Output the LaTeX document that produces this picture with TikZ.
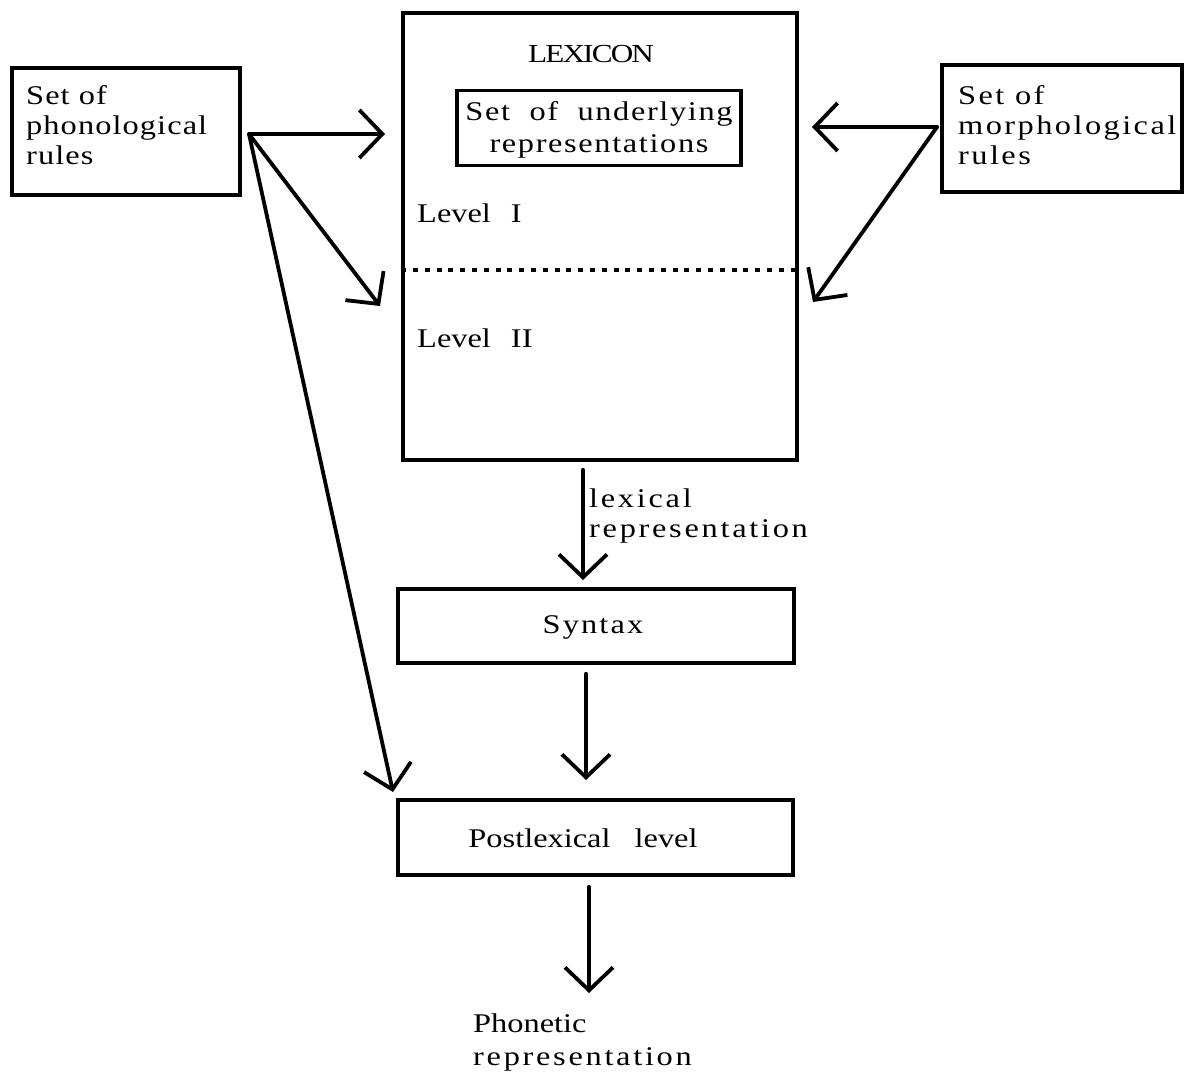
\documentclass[tikz,border=0pt]{standalone}
\usepackage{fontspec}
\setmainfont{Liberation Serif}
\newfontfamily\wfont[FakeStretch=1.2]{Liberation Serif}
\usetikzlibrary{arrows.meta}
\begin{document}
\begin{tikzpicture}[x=1pt,y=-1pt,
  box/.style={draw,line width=3.6pt,inner sep=0pt},
  txt/.style={inner sep=0pt,align=left,font=\fontsize{27}{30}\selectfont\wfont\addfontfeature{LetterSpace=#1}},
  txt/.default=0,
  arr/.style={line width=3.8pt,line join=round,line cap=round,-{Straight Barb[length=23pt,width=48pt,line width=3.8pt]}}]
\useasboundingbox[fill=white] (0,0) rectangle (1184,1081);
% boxes
\node[box,minimum width=228pt,minimum height=127pt] (phon) at (126,131.5) {};
\node[box,minimum width=240pt,minimum height=127pt] (morph) at (1062,128.5) {};
\node[box,minimum width=394pt,minimum height=447pt] (lex) at (600,236.5) {};
\node[box,minimum width=284pt,minimum height=75pt] (ur) at (599,128) {};
\node[box,minimum width=396pt,minimum height=74pt] (syn) at (596,626) {};
\node[box,minimum width=395pt,minimum height=75pt] (post) at (595.5,837.5) {};
% texts
\node[txt=4,anchor=north west] (phont) at (26,85) {Set of\\phonological\\rules};
\node[txt=9,anchor=north west] (morpht) at (958,85) {Set of\\morphological\\rules};
\node[inner sep=0pt,anchor=base,font=\fontsize{26}{28}\selectfont\wfont\addfontfeature{LetterSpace=-7}] (lext) at (591,63) {LEXICON};
\node[txt=6,align=center,anchor=north,font=\fontsize{27}{32}\selectfont\wfont\addfontfeature{LetterSpace=6}] (urt) at (599,101.5) {Set \ of \ underlying\\representations};
\node[txt,anchor=base west] (l1) at (417,222) {Level\hspace{20pt}I};
\node[txt,anchor=base west] (l2) at (417,347) {Level\hspace{20pt}II};
\draw[line width=4pt,dash pattern=on 5pt off 6.8pt] (lex.west |- 0,270) -- (lex.east |- 0,270);
\node[txt=10,anchor=north west] (lrt) at (589,488.5) {lexical\\representation};
\node[txt=8,anchor=base] (synt) at (593,633) {Syntax};
\node[txt,anchor=base] (postt) at (583,847) {Postlexical\hspace{24pt}level};
\node[txt,anchor=north west,font=\fontsize{27}{33}\selectfont\wfont] (phont2) at (473,1013.5) {Phonetic\\{\addfontfeature{LetterSpace=10}representation}};
% arrow coordinates
\coordinate (po) at (249,134);
\coordinate (mo) at (937,127);
\coordinate (t1) at (385,134);
\coordinate (t2) at (380,306);
\coordinate (t3) at (393,792);
\coordinate (t4) at (812,127);
\coordinate (t5) at (813,302);
\draw[arr] (po) -- (t1);
\draw[arr] (po) -- (t2);
\draw[arr] (po) -- (t3);
\draw[arr] (mo) -- (t4);
\draw[arr] (mo) -- (t5);
\coordinate (a1s) at (lex.south -| 583,0);
\coordinate (a2s) at (syn.south -| 586,0);
\coordinate (a3s) at (post.south -| 589,0);
\draw[arr] (a1s) ++(0,8) -- (583,580);
\draw[arr] (a2s) ++(0,9) -- (586,780);
\draw[arr] (a3s) ++(0,10) -- (589,993);
\end{tikzpicture}
\end{document}
